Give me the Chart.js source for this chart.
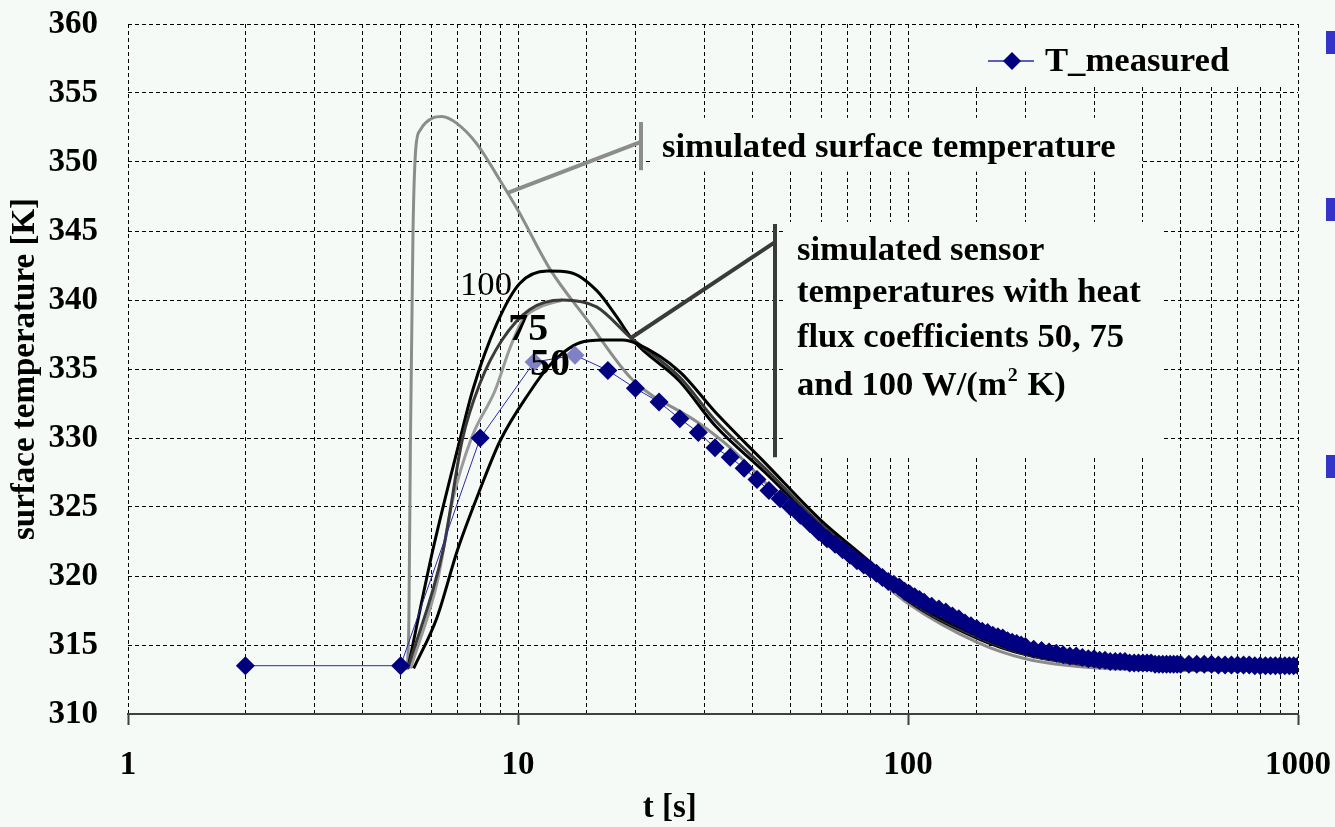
<!DOCTYPE html>
<html>
<head>
<meta charset="utf-8">
<script src="https://cdn.jsdelivr.net/npm/chart.js@4"></script>
<style>
	html, body { margin: 0; padding: 0; background: #f6faf7; }
	#wrap { position: relative; width: 1335px; height: 827px; overflow: hidden; }
	.bullet { position: absolute; left: 1326px; width: 12px; height: 23px; background: #3434c8; }
</style>
</head>
<body>
<div id="wrap">
	<canvas id="chartTemp" width="1335" height="827"></canvas>
	<div class="bullet" style="top:31px"></div>
	<div class="bullet" style="top:198px"></div>
	<div class="bullet" style="top:455px"></div>
</div>
<script>
'use strict'

// measured sensor temperature
const measTime = [2, 5, 8, 11, 14, 17, 20, 23, 26, 29, 32, 35, 38, 41, 44, 47, 50, 53, 56, 59, 62, 65, 68, 71, 74, 77, 80, 83, 86, 89, 92, 95, 98,
	101, 104, 107, 110, 115, 120, 125, 130, 135, 140, 145, 150, 155, 160, 165, 170, 175, 180, 185, 190, 195, 200,
	210, 220, 230, 240, 250, 260, 270, 280, 290, 300, 310, 320, 330, 340, 350, 360, 370, 380, 390, 400,
	410, 420, 430, 440, 450, 460, 470, 480, 490, 500, 525, 550, 575, 600, 625, 650, 675, 700, 725, 750,
	775, 800, 825, 850, 875, 900, 925, 950, 975, 1000];
const measTemp = [313.5, 313.5, 330.0, 335.5, 336.0, 334.9, 333.6, 332.6, 331.4, 330.4, 329.3, 328.6, 327.8, 327.0, 326.2, 325.6, 325.0, 324.4, 323.8, 323.2, 322.7, 322.3, 321.9, 321.5, 321.1, 320.8, 320.5, 320.2, 319.9, 319.6, 319.4, 319.2, 318.9,
	318.7, 318.5, 318.3, 318.1, 317.8, 317.6, 317.4, 317.1, 316.9, 316.6, 316.4, 316.2, 316.0, 315.9, 315.7, 315.6, 315.5, 315.3, 315.2, 315.1, 315.0, 314.9,
	314.7, 314.6, 314.5, 314.4, 314.3, 314.2, 314.2, 314.1, 314.0, 314.0, 313.9, 313.9, 313.8, 313.8, 313.8, 313.8, 313.7, 313.7, 313.7, 313.7,
	313.7, 313.7, 313.6, 313.6, 313.6, 313.6, 313.6, 313.6, 313.6, 313.6, 313.6, 313.6, 313.6, 313.6, 313.55, 313.55, 313.55, 313.55, 313.55, 313.55,
	313.5, 313.5, 313.5, 313.5, 313.5, 313.5, 313.5, 313.5, 313.5, 313.5];

// simulated surface temperature
const surfTime = [5.2, 5.25, 5.3, 5.38, 5.47, 5.61, 6.05, 6.38, 6.97, 7.85, 8.98, 10, 12.1, 15, 19.7, 29, 35, 44, 60, 80, 100, 150, 200, 300, 500, 1000];
const surfTemp = [313.2, 316.7, 330, 345, 351, 352.3, 353.2, 353.3, 352.8, 351.3, 348.7, 346.5, 342.2, 338.6, 334.2, 331.1, 329.3, 326.5, 322.6, 320.2, 318.0, 315.2, 314.0, 313.35, 313.2, 313.2];

// simulated sensor temperatures, heat flux coefficient 100 / 75 / 50
const sim100Time = [5.22, 6.05, 7.1, 7.66, 8.83, 10.1, 11.9, 13.6, 15.9, 17.9, 19.7, 26, 32, 43, 60, 80, 100, 150, 200, 300, 500, 1000];
const sim100Temp = [313.3, 321.9, 329.9, 333.5, 338.3, 341.2, 342.1, 342.0, 340.7, 338.8, 337.1, 334.1, 330.9, 327.5, 323.5, 320.6, 318.2, 315.5, 314.3, 313.5, 313.2, 313.2];
const sim75Time = [5.22, 6.43, 7.2, 8.0, 9.1, 10.7, 13.0, 15.9, 19.4, 26, 32, 43, 60, 80, 100, 150, 200, 300, 500, 1000];
const sim75Temp = [313.3, 321.9, 329.9, 334.0, 337.1, 339.3, 340.0, 339.5, 337.3, 334.4, 331.3, 327.8, 323.7, 320.8, 318.3, 315.6, 314.35, 313.5, 313.2, 313.2];
const sim75bTime = [5.3, 6.2, 6.8, 7.6, 8.75, 9.5, 10.3, 11.4, 13.0];
const sim75bTemp = [313.3, 319.5, 325.5, 330.0, 333.5, 336.4, 338.6, 339.5, 340.0];
const sim50Time = [5.4, 6.2, 7.0, 8.0, 9.0, 10.7, 12.0, 14.4, 16.5, 18.5, 20.3, 26, 32, 43, 60, 80, 100, 150, 200, 300, 500, 1000];
const sim50Temp = [313.3, 317.0, 321.9, 326.3, 329.8, 333.3, 335.2, 336.9, 337.1, 337.1, 336.8, 334.8, 331.9, 328.2, 324.0, 321.0, 318.4, 315.7, 314.4, 313.6, 313.3, 313.2];

const xTickLabels = [1, 10, 100, 1000];

const bg = '#f6faf7';
const serif = '"Liberation Serif", "Times New Roman", serif';
const stretch = 1.05;

function pts(ts, vs) {
	return ts.map((t, i) => ({ x: t, y: vs[i] }));
}

function simLine(label, ts, vs, color) {
	return {
		label: label,
		data: pts(ts, vs),
		borderColor: color,
		borderWidth: 3,
		pointRadius: 0,
		cubicInterpolationMode: 'monotone',
		fill: false,
	};
}

// text slightly wider than the font, like the original slide
function wideText(ctx, text, x, y) {
	ctx.save();
	ctx.translate(x, y);
	ctx.scale(stretch, 1);
	ctx.fillText(text, 0, 0);
	ctx.restore();
	return ctx.measureText(text).width * stretch;
}

const annotations = {
	id: 'annotations',
	beforeDatasetsDraw(chart) {
		const { ctx, scales: { x, y }, chartArea } = chart;
		const px = t => x.getPixelForValue(t);
		const py = v => y.getPixelForValue(v);
		ctx.save();
		ctx.fillStyle = bg;
		// boxes behind the texts hide the grid
		ctx.fillRect(px(21.8), py(353.2), px(393) - px(21.8), py(349.3) - py(353.2));
		ctx.fillRect(px(48.3), py(345.65), px(448) - px(48.3), py(328.55) - py(345.65));
		ctx.fillRect(px(106), py(359.6), chartArea.right - px(106) - 1, py(355.6) - py(359.6));
		ctx.restore();
	},
	afterDatasetsDraw(chart) {
		const { ctx, scales: { x, y }, chartArea } = chart;
		const px = t => x.getPixelForValue(t);
		const py = v => y.getPixelForValue(v);
		ctx.save();
		ctx.lineCap = 'butt';

		// leader to surface curve
		ctx.strokeStyle = '#8c8c8c';
		ctx.lineWidth = 4;
		ctx.beginPath();
		ctx.moveTo(px(9.37), py(347.75));
		ctx.lineTo(px(20.67), py(351.45));
		ctx.moveTo(px(20.67), py(352.9));
		ctx.lineTo(px(20.67), py(349.4));
		ctx.stroke();

		// leader to sensor curves
		ctx.strokeStyle = '#3a3a3a';
		ctx.beginPath();
		ctx.moveTo(px(19.6), py(337.3));
		ctx.lineTo(px(45.6), py(344.2));
		ctx.moveTo(px(45.6), py(345.5));
		ctx.lineTo(px(45.6), py(328.6));
		ctx.stroke();

		ctx.fillStyle = '#000';
		ctx.textAlign = 'left';
		ctx.textBaseline = 'alphabetic';
		ctx.font = 'bold 33px ' + serif;
		wideText(ctx, 'simulated surface temperature', px(23.4), py(350.36));
		const tx = px(51.9);
		wideText(ctx, 'simulated sensor', tx, py(342.9));
		wideText(ctx, 'temperatures with heat', tx, py(339.85));
		wideText(ctx, 'flux coefficients 50, 75', tx, py(336.6));
		const by = py(333.1);
		let w = wideText(ctx, 'and 100 W/(m', tx, by);
		ctx.font = 'bold 19px ' + serif;
		let w2 = wideText(ctx, '2', tx + w + 1, by - 14);
		ctx.font = 'bold 33px ' + serif;
		wideText(ctx, ' K)', tx + w + w2 + 2, by);

		// curve labels
		ctx.font = '33px ' + serif;
		wideText(ctx, '100', px(7.1), py(340.36));
		ctx.font = 'bold 38px ' + serif;
		wideText(ctx, '75', px(9.44), py(337.1));
		wideText(ctx, '50', px(10.73), py(334.57));

		// legend
		const ly = chartArea.top + 37;
		ctx.strokeStyle = '#2a2aa8';
		ctx.lineWidth = 1.5;
		ctx.beginPath();
		ctx.moveTo(chartArea.right - 310, ly);
		ctx.lineTo(chartArea.right - 264, ly);
		ctx.stroke();
		const cx = chartArea.right - 286;
		ctx.fillStyle = '#000080';
		ctx.beginPath();
		ctx.moveTo(cx, ly - 9);
		ctx.lineTo(cx + 9, ly);
		ctx.lineTo(cx, ly + 9);
		ctx.lineTo(cx - 9, ly);
		ctx.closePath();
		ctx.fill();
		ctx.fillStyle = '#000';
		ctx.font = 'bold 33px ' + serif;
		wideText(ctx, 'T_measured', chartArea.right - 253, ly + 10);

		// x axis title
		ctx.textAlign = 'center';
		ctx.fillText('t [s]', chartArea.left + (chartArea.right - chartArea.left) * 0.463, 817);
		ctx.restore();
	},
};

const measColors = measTime.map((t, i) => (i === 3 || i === 4) ? '#8080c4' : '#000080');

const chartTemp = new Chart(document.getElementById('chartTemp'), {
	type: 'line',
	data: {
		datasets: [
			{
				label: 'T_measured',
				data: pts(measTime, measTemp),
				borderColor: '#2a2aa8',
				borderWidth: 1,
				pointStyle: 'rectRot',
				pointRadius: 9.5,
				pointBorderWidth: 0,
				pointBackgroundColor: measColors,
				tension: 0,
				fill: false,
			},
			simLine('sim 50', sim50Time, sim50Temp, '#000'),
			simLine('sim 75', sim75Time, sim75Temp, '#3a3a3a'),
			simLine('sim 75 (b)', sim75bTime, sim75bTemp, '#9a9a9a'),
			simLine('sim 100', sim100Time, sim100Temp, '#000'),
			simLine('surface', surfTime, surfTemp, '#8c8c8c'),
		],
	},
	options: {
		responsive: false,
		animation: false,
		events: [],
		layout: { padding: { top: 24, right: 37, left: 0, bottom: 0 } },
		plugins: {
			legend: { display: false },
			tooltip: { enabled: false },
		},
		scales: {
			x: {
				type: 'logarithmic',
				min: 1,
				max: 1000,
				afterFit(scale) {
					scale.height = 113;
					scale.paddingLeft = 0;
					scale.paddingRight = 0;
				},
				grid: {
					color: '#000',
					lineWidth: 1,
					tickLength: 11,
					tickColor: c => xTickLabels.includes(c.tick && c.tick.value) ? '#404040' : 'rgba(0,0,0,0)',
					tickWidth: 2,
				},
				border: { display: true, color: '#404040', width: 2, dash: [4, 3] },
				ticks: {
					autoSkip: false,
					maxRotation: 0,
					padding: 21,
					color: '#000',
					font: { family: serif, size: 33, weight: 'bold' },
					callback: v => xTickLabels.includes(v) ? String(v) : '',
				},
			},
			y: {
				min: 310,
				max: 360,
				afterFit(scale) {
					scale.width = 128;
					scale.paddingTop = 0;
					scale.paddingBottom = 0;
				},
				grid: { color: '#000', lineWidth: 1, drawTicks: false },
				border: { display: false, dash: [4, 3] },
				ticks: {
					stepSize: 5,
					padding: 30,
					color: '#000',
					font: { family: serif, size: 33, weight: 'bold' },
				},
				title: {
					display: true,
					text: 'surface temperature [K]',
					color: '#000',
					padding: { top: 6, bottom: 0 },
					font: { family: serif, size: 33, weight: 'bold' },
				},
			},
		},
	},
	plugins: [annotations],
});
</script>
</body>
</html>
